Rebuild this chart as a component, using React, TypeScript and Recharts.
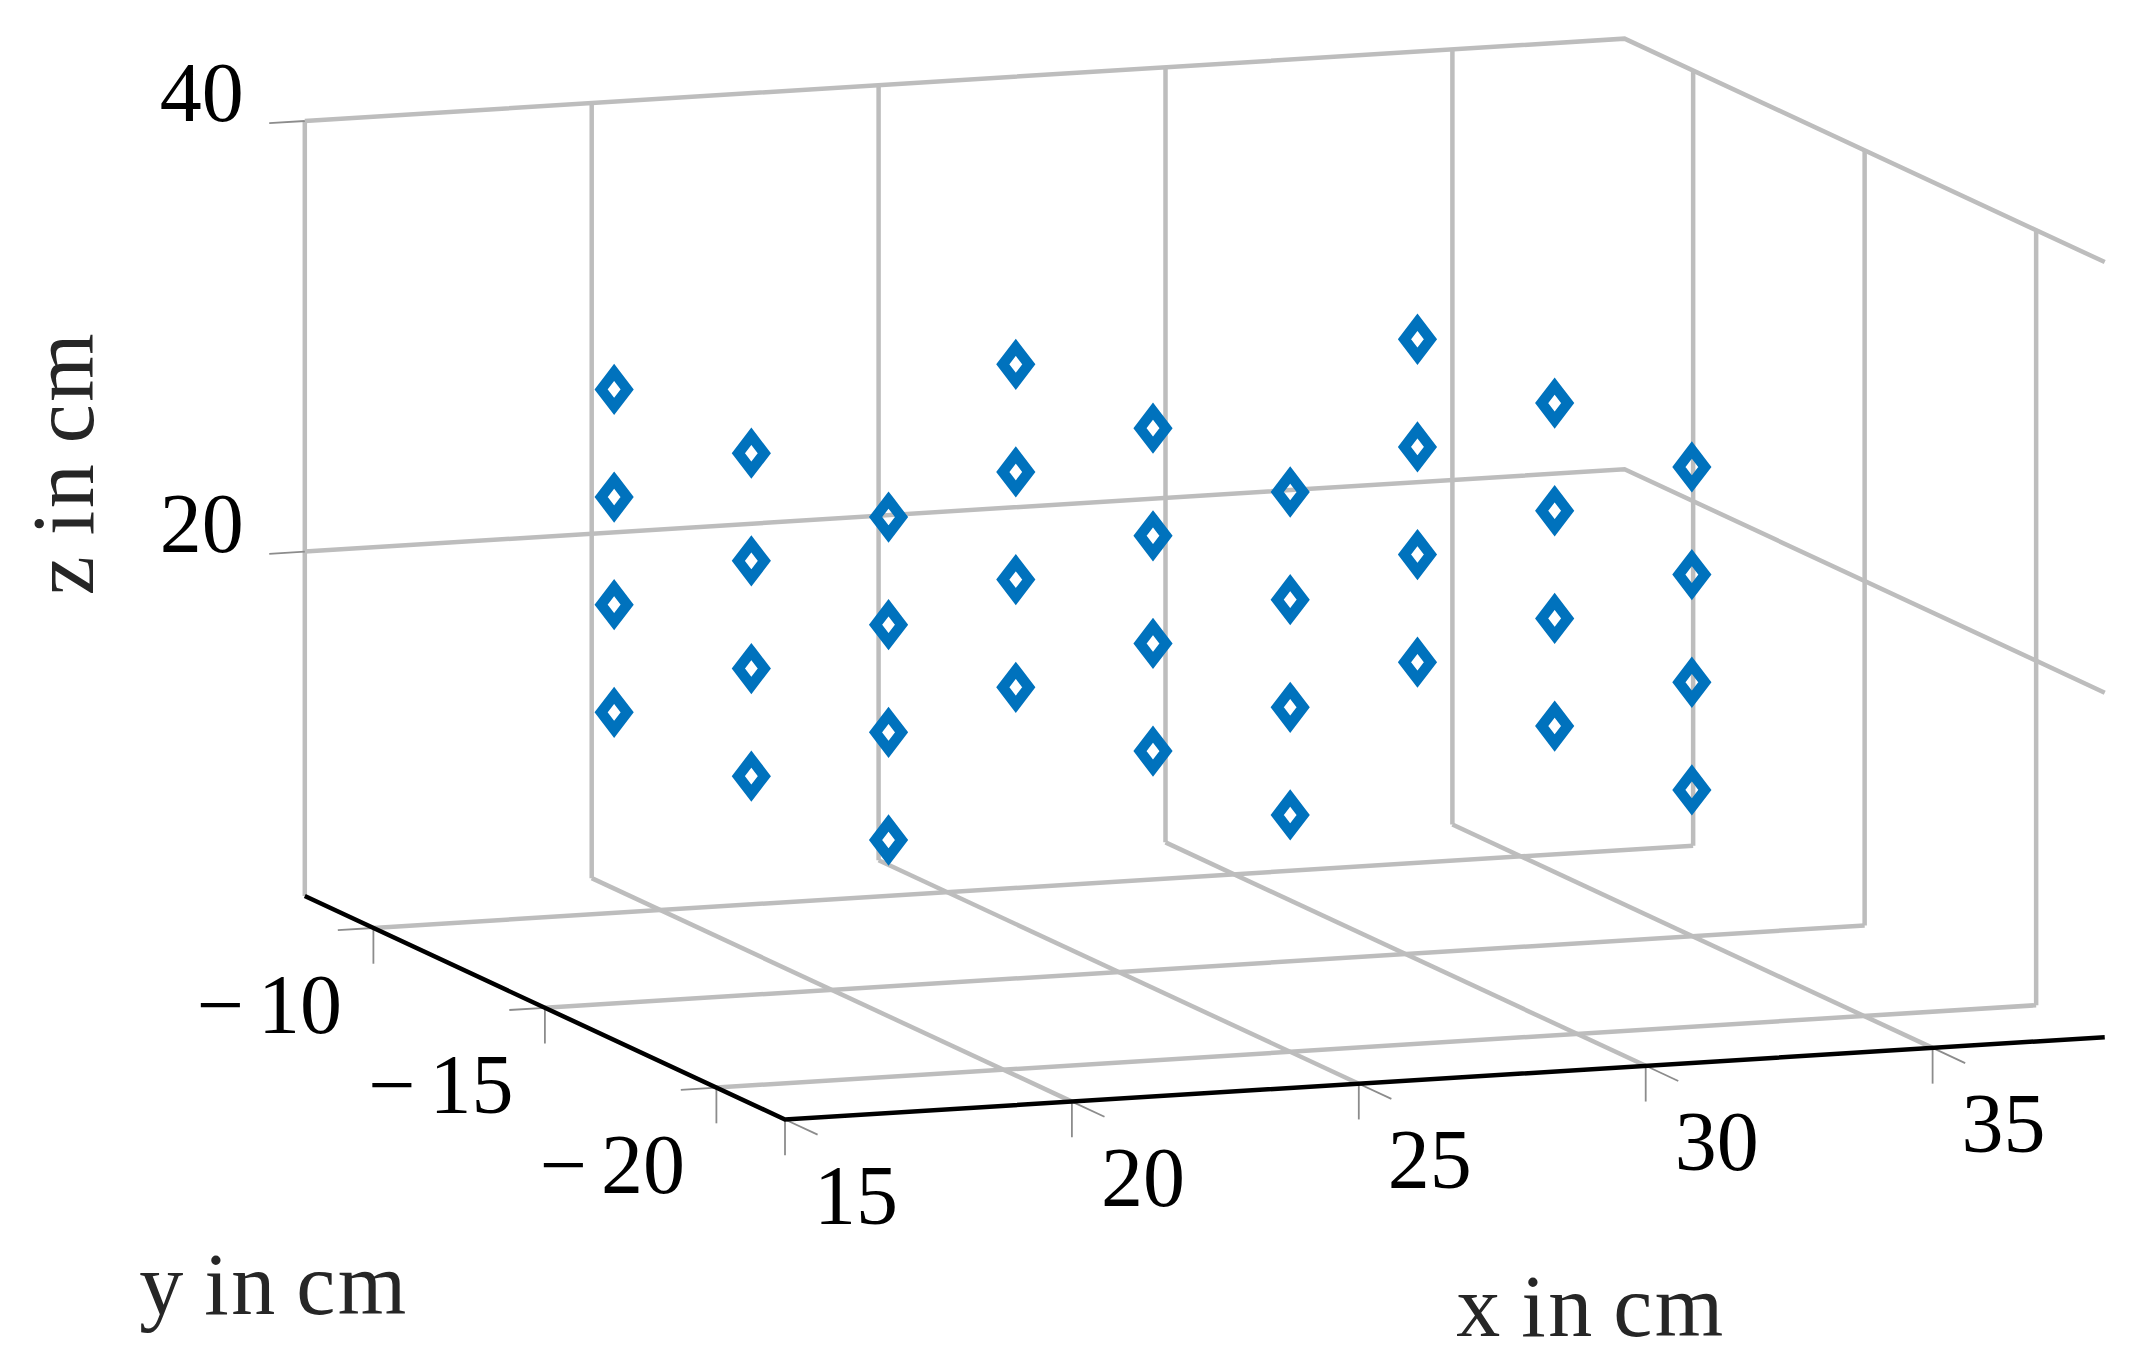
import { ScatterChart, Scatter, XAxis, YAxis } from "recharts";

const xTicks = [15, 20, 25, 30, 35];
const yTicks = [-10, -15, -20];
const zTicks = [20, 40];

// measured positions of the diamonds, cm
const pointX = [18, 25, 32];
const pointY = [-12, -16, -20];
const pointZ = [15, 20, 25, 30];

const X_MIN = 15;
const X_MAX = 38;
const Y_MIN = -22;
const Y_MAX = -8;
const Z_MIN = 4;
const Z_MAX = 40;

const WIDTH = 2153;
const HEIGHT = 1371;
const GRID = "#bdbdbd";
const TICK = "#8c8c8c";
const BLUE = "#0072bd";
const FONT = "'Liberation Serif', serif";

// the original is a fixed orthographic view, so this is just a linear map
function project(x: number, y: number, z: number) {
  return {
    sx: 785 + 57.38 * (x - X_MIN) - 34.3 * (y - Y_MIN),
    sy: 1119.5 - 3.58 * (x - X_MIN) - 15.96 * (y - Y_MIN) - 21.53 * (z - Z_MIN),
  };
}

type P3 = [number, number, number];

const gridLines: P3[][] = [
  ...xTicks.map((x): P3[] => [[x, Y_MAX, Z_MIN], [x, Y_MAX, Z_MAX]]),
  ...xTicks.slice(1).map((x): P3[] => [[x, Y_MAX, Z_MIN], [x, Y_MIN, Z_MIN]]),
  ...yTicks.map((y): P3[] => [[X_MAX, y, Z_MIN], [X_MAX, y, Z_MAX]]),
  ...yTicks.map((y): P3[] => [[X_MIN, y, Z_MIN], [X_MAX, y, Z_MIN]]),
  ...zTicks.map((z): P3[] => [[X_MIN, Y_MAX, z], [X_MAX, Y_MAX, z], [X_MAX, Y_MIN, z]]),
];

const tickMarks: P3[][] = [
  ...xTicks.flatMap((x): P3[][] => [
    [[x, Y_MIN, Z_MIN], [x, Y_MIN - 0.95, Z_MIN]],
    [[x, Y_MIN, Z_MIN], [x, Y_MIN, Z_MIN - 1.66]],
  ]),
  ...yTicks.flatMap((y): P3[][] => [
    [[X_MIN, y, Z_MIN], [X_MIN - 0.62, y, Z_MIN]],
    [[X_MIN, y, Z_MIN], [X_MIN, y, Z_MIN - 1.66]],
  ]),
  ...zTicks.map((z): P3[] => [[X_MIN, Y_MAX, z], [X_MIN - 0.62, Y_MAX, z]]),
];

const axisLine: P3[] = [
  [X_MIN, Y_MAX, Z_MIN],
  [X_MIN, Y_MIN, Z_MIN],
  [X_MAX, Y_MIN, Z_MIN],
];

const points = pointX.flatMap((x) =>
  pointY.flatMap((y) => pointZ.map((z) => project(x, y, z)))
);

function offsetLabel(p: { sx: number; sy: number }, dx: number, dy: number, text: string) {
  return { sx: p.sx + dx, sy: p.sy + dy, text };
}

const tickLabels = [
  ...xTicks.map((x) => offsetLabel(project(x, Y_MIN, Z_MIN), 71, 76, String(x))),
  // hair spaces: the reference sets its minus apart from the digits
  ...yTicks.map((y) => offsetLabel(project(X_MIN, y, Z_MIN), -104, 77, `\u2212\u200a\u200a${Math.abs(y)}`)),
  ...zTicks.map((z) => offsetLabel(project(X_MIN, Y_MAX, z), -103, -28, String(z))),
];

const noMark = () => <g />;

function Diamond(props: any) {
  const { cx, cy } = props;
  return (
    <polygon
      points={`${cx},${cy - 17} ${cx + 13},${cy} ${cx},${cy + 17} ${cx - 13},${cy}`}
      fill="none"
      stroke={BLUE}
      strokeWidth={10.5}
      strokeLinejoin="miter"
    />
  );
}

function TickText(props: any) {
  return (
    <text
      x={props.cx}
      y={props.cy}
      textAnchor="middle"
      dominantBaseline="central"
      fontFamily={FONT}
      fontSize={84}
      fill="#000"
    >
      {props.payload.text}
    </text>
  );
}

function TitleText(props: any) {
  const { cx, cy, payload } = props;
  return (
    <text
      x={cx}
      y={cy}
      textAnchor="middle"
      dominantBaseline="central"
      fontFamily={FONT}
      fontSize={88}
      letterSpacing={2.5}
      wordSpacing={-6}
      fill="#262626"
      transform={payload.rotate ? `rotate(${payload.rotate} ${cx} ${cy})` : undefined}
    >
      {payload.text}
    </text>
  );
}

const titles = [
  { sx: 1591, sy: 1306, text: "x in cm", rotate: 0 },
  { sx: 274, sy: 1284, text: "y in cm", rotate: 0 },
  { sx: 63, sy: 463, text: "z in cm", rotate: -90 },
];

function segment(line: P3[], key: string, stroke: string, strokeWidth: number) {
  return (
    <Scatter
      key={key}
      data={line.map((p) => project(p[0], p[1], p[2]))}
      dataKey="sy"
      line={{ stroke, strokeWidth }}
      shape={noMark}
      legendType="none"
      isAnimationActive={false}
    />
  );
}

export default function App() {
  return (
    <div style={{ position: "absolute", left: 0, top: 0, width: WIDTH, height: HEIGHT, background: "#fff" }}>
      <ScatterChart width={WIDTH} height={HEIGHT} margin={{ top: 0, right: 0, bottom: 0, left: 0 }}>
        <XAxis type="number" dataKey="sx" domain={[0, WIDTH]} hide />
        <YAxis type="number" dataKey="sy" domain={[0, HEIGHT]} reversed hide />
        {gridLines.map((l, i) => segment(l, `grid-${i}`, GRID, 4.5))}
        {tickMarks.map((l, i) => segment(l, `tick-${i}`, TICK, 1.8))}
        {segment(axisLine, "axis", "#000", 4.5)}
        <Scatter data={points} shape={Diamond} isAnimationActive={false} />
        <Scatter data={tickLabels} shape={TickText} isAnimationActive={false} />
        <Scatter data={titles} shape={TitleText} isAnimationActive={false} />
      </ScatterChart>
    </div>
  );
}
